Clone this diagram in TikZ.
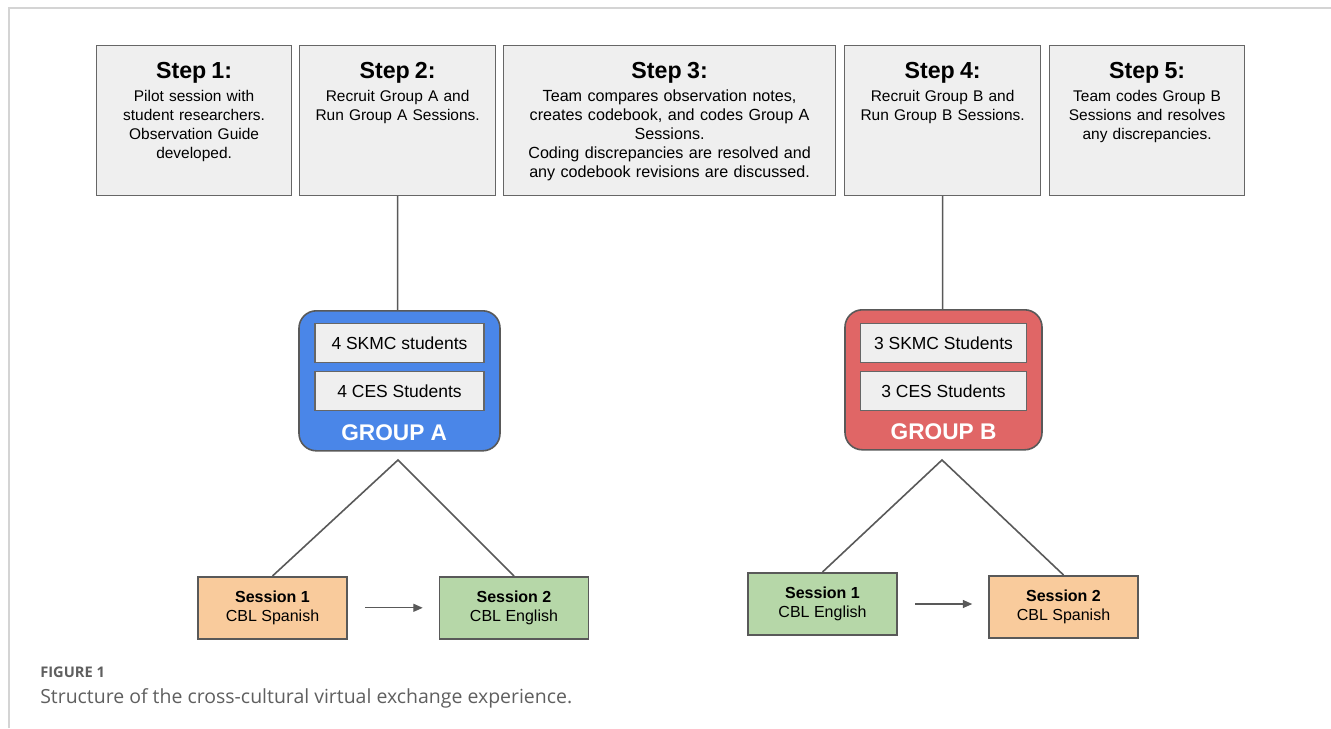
\documentclass[tikz,border=0pt]{standalone}
\usepackage{fontspec}
\setmainfont{Liberation Sans}
\newfontfamily\capfont{Open Sans}
\usepackage{xcolor}
\usetikzlibrary{positioning, arrows.meta}

\definecolor{boxgray}{HTML}{EFEFEF}
\definecolor{edgegray}{HTML}{666666}
\definecolor{linegray}{HTML}{595959}
\definecolor{groupblue}{HTML}{4A86E8}
\definecolor{groupred}{HTML}{E06666}
\definecolor{sessorange}{HTML}{F9CB9C}
\definecolor{sessgreen}{HTML}{B6D7A8}
\definecolor{framegray}{HTML}{D4D4D4}
\definecolor{capgray}{HTML}{5F5F5F}

\tikzset{
  stepbox/.style={draw=edgegray, fill=boxgray, line width=0.9pt, anchor=north west,
    inner sep=0pt, text width=#1, align=center, text height=24.75pt, text depth=87.75pt,
    font=\fontsize{11.6}{14.25}\selectfont},
  groupbox/.style={draw=linegray, fill=#1, line width=1.2pt, rounded corners=13pt,
    minimum height=105pt, anchor=north},
  memberbox/.style={draw=edgegray, fill=boxgray, line width=0.8pt, minimum height=29.25pt,
    anchor=north, font=\fontsize{13.1}{15}\selectfont},
  grouplabel/.style={text=white, font=\fontsize{17}{20}\selectfont\bfseries},
  sessbox/.style={draw=linegray, fill=#1, line width=1.2pt, minimum width=111.75pt,
    minimum height=46.5pt, align=center, anchor=north,
    font=\fontsize{12}{14.25}\selectfont},
  link/.style={draw=linegray, line width=1.2pt},
  flow/.style={draw=linegray, line width=0.9pt, -{Triangle[length=7pt,width=6pt]},
    shorten <=13pt, shorten >=12pt}
}

\newcommand{\steptitle}[1]{{\fontsize{17.4}{18}\selectfont\bfseries #1}\\[2.75pt]}

\begin{document}
\begin{tikzpicture}[x=0.75pt, y=-0.75pt]
  \useasboundingbox (0,0) rectangle (1331,728);

  % frame of the figure
  \coordinate (fl) at (9,728);
  \coordinate (fc) at (9,8);
  \coordinate (fr) at (1331,8);
  \draw[framegray, line width=1.3pt] (fl) -- (fc) -- (fr);

  % the five steps
  \node[stepbox=146.25pt] (s1) at (96,45) {\steptitle{Step 1:}Pilot session with\\student researchers.\\Observation Guide\\developed.};
  \node[stepbox=147pt] (s2) at (299,45) {\steptitle{Step 2:}Recruit Group A and\\Run Group A Sessions.};
  \node[stepbox=249pt, font=\fontsize{12.1}{14.25}\selectfont] (s3) at (503,45) {\steptitle{Step 3:}Team compares observation notes,\\creates codebook, and codes Group A\\Sessions.\\Coding discrepancies are resolved and\\any codebook revisions are discussed.};
  \node[stepbox=147pt] (s4) at (844,45) {\steptitle{Step 4:}Recruit Group B and\\Run Group B Sessions.};
  \node[stepbox=146.25pt] (s5) at (1049,45) {\steptitle{Step 5:}Team codes Group B\\Sessions and resolves\\any discrepancies.};

  % groups
  \node[groupbox=groupblue, minimum width=150.75pt] (ga) at (399.5,310) {};
  \node[memberbox, minimum width=126.75pt] (a1) [below=9.75pt of ga.north] {4 SKMC students};
  \node[memberbox, minimum width=126.75pt] (a2) [below=6pt of a1] {4 CES Students};
  \node[grouplabel] (la) [above=5pt of ga.south, xshift=-4pt] {GROUP A};

  \node[groupbox=groupred, minimum width=147.75pt] (gb) at (943.5,309) {};
  \node[memberbox, minimum width=124.5pt] (b1) [below=10.5pt of gb.north] {3 SKMC Students};
  \node[memberbox, minimum width=124.5pt] (b2) [below=6pt of b1] {3 CES Students};
  \node[grouplabel] (lb) [above=5pt of gb.south] {GROUP B};

  % sessions
  \coordinate (ta) at (398,460);
  \coordinate (tb) at (942,460);
  \node[sessbox=sessorange] (sa1) at (272.5,576) {\textbf{Session 1}\\CBL Spanish};
  \node[sessbox=sessgreen] (sa2) at (514,576) {\textbf{Session 2}\\CBL English};
  \node[sessbox=sessgreen] (sb1) at (822.5,572) {\textbf{Session 1}\\CBL English};
  \node[sessbox=sessorange] (sb2) at (1063.5,575) {\textbf{Session 2}\\CBL Spanish};

  \path[link]
    (s2.south) -- (s2.south |- ga.north)
    (s4.south) -- (s4.south |- gb.north)
    (sa1.north) -- (ta) -- (sa2.north)
    (sb1.north) -- (tb) -- (sb2.north);

  \path[flow] (sa1.east) -- (sa1.east -| sa2.west);
  \path[flow] (sb1.east |- 0,604) -- (sb2.west |- 0,604);

  % caption
  \node[anchor=base west, inner sep=0pt, text=capgray, font=\capfont\fontsize{11}{13}\selectfont\bfseries] (fig) at (40,677) {FIGURE 1};
  \node[anchor=base west, inner sep=0pt, text=capgray, font=\capfont\fontsize{14.6}{17}\selectfont] (cap) at (40,703) {Structure of the cross-cultural virtual exchange experience.};
\end{tikzpicture}
\end{document}
